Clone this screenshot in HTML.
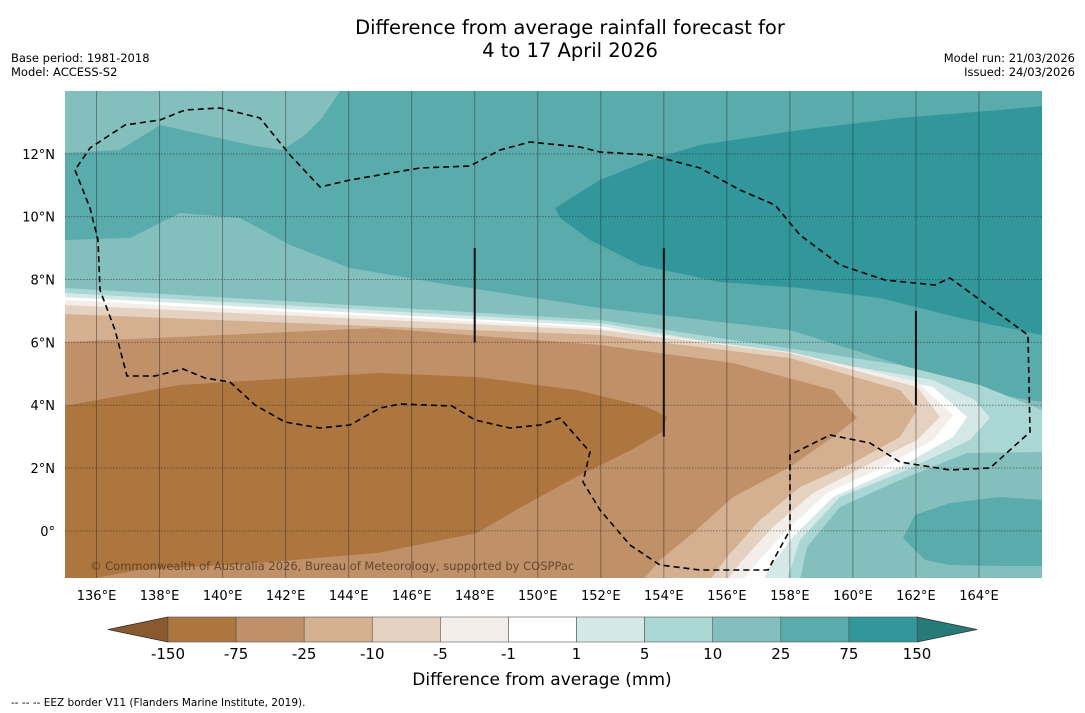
<!DOCTYPE html>
<html><head><meta charset="utf-8"><style>
body{margin:0;background:#fff;width:1085px;height:713px;overflow:hidden;font-family:"DejaVu Sans","Liberation Sans",sans-serif}
svg{position:absolute;left:0;top:0;font-family:"DejaVu Sans","Liberation Sans",sans-serif}
</style></head><body>
<svg id="chart" width="1085" height="713" viewBox="0 0 1085 713">
<text x="570" y="34" font-size="19.5" text-anchor="middle">Difference from average rainfall forecast for</text>
<text x="570" y="57" font-size="19.5" text-anchor="middle">4 to 17 April 2026</text>
<text x="11" y="62" font-size="11.5">Base period: 1981-2018</text>
<text x="11" y="76" font-size="11.5">Model: ACCESS-S2</text>
<text x="1075" y="62" font-size="11.5" text-anchor="end">Model run: 21/03/2026</text>
<text x="1075" y="76" font-size="11.5" text-anchor="end">Issued: 24/03/2026</text>
<defs><clipPath id="mapclip"><rect x="65" y="91" width="977" height="487"/></clipPath></defs>
<g id="map" clip-path="url(#mapclip)"></g>
<g id="axes"></g>
<g id="cbar"></g>
<text x="542" y="685" font-size="17" text-anchor="middle">Difference from average (mm)</text>
<text x="11" y="706" font-size="10.5">--  --  -- EEZ border V11 (Flanders Marine Institute, 2019).</text>
</svg>
<script>
const lonMin=135, lonMax=166, latMin=-1.5, latMax=14;
const X0=65, X1=1042, Y0=91, Y1=578;
function px(lon){return X0+(lon-lonMin)/(lonMax-lonMin)*(X1-X0);}
function py(lat){return Y0+(latMax-lat)/(latMax-latMin)*(Y1-Y0);}
function toLL(p){return [lonMin+(p[0]-X0)/(X1-X0)*(lonMax-lonMin), latMax-(p[1]-Y0)/(Y1-Y0)*(latMax-latMin)];}

const levels=[-150,-75,-25,-10,-5,-1,1,5,10,25,75,150];
const colors=["#ad763f","#c09068","#d4b091","#e5d1bf","#f3eee9","#ffffff","#d4e8e7","#aad6d4","#83bfbd","#5aabab","#31979a"];
const lonTicks=[136,138,140,142,144,146,148,150,152,154,156,158,160,162,164];
const latTicks=[0,2,4,6,8,10,12];

const rMedium=[[65,153],[120,150],[160,125],[250,145],[282,150],[305,135],[322,118],[340,91],[1042,91],[1042,402],[967,390],[917,370],[790,330],[600,308],[450,285],[350,268],[290,245],[240,218],[180,213],[130,238],[65,240]].map(toLL);
const rDark=[[555,208],[600,180],[650,160],[700,145],[800,130],[900,118],[1000,110],[1042,106],[1042,335],[960,318],[880,298],[800,288],[720,282],[640,265],[590,240],[560,218]].map(toLL);
const rBlob=[[903,538],[915,515],[950,503],[1000,497],[1042,500],[1042,566],[1000,566],[950,565],[925,560]].map(toLL);
const r5=[[65,288],[600,320],[900,365],[980,385],[1042,410],[1042,452],[967,453],[900,480],[840,507],[807,547],[800,580],[65,580]].map(toLL);
const r1=[[65,293],[600,323],[933,380],[975,400],[990,418],[970,440],[900,473],[840,497],[800,540],[787,580],[65,580]].map(toLL);
const rm1=[[65,297],[600,326],[933,387],[967,417],[953,437],[900,467],[833,497],[793,537],[770,567],[763,580],[65,580]].map(toLL);
const rm5=[[65,300],[600,328],[790,352],[917,382],[953,415],[933,440],[883,467],[827,493],[787,530],[753,567],[743,580],[65,580]].map(toLL);
const rm10=[[65,305],[600,330],[790,353],[917,387],[940,417],[917,440],[867,465],[813,493],[773,527],[740,563],[727,580],[65,580]].map(toLL);
const rm25=[[65,314],[600,335],[790,358],[900,390],[917,410],[900,437],[853,463],[800,487],[760,520],[727,557],[710,580],[65,580]].map(toLL);
const rm75=[[65,342],[377,328],[600,345],[733,363],[833,390],[857,418],[833,437],[790,467],[733,497],[693,533],[660,560],[643,580],[65,580]].map(toLL);
const rm150=[[65,406],[179,385],[377,373],[477,377],[576,390],[647,407],[667,417],[662,432],[631,450],[576,477],[516,510],[477,533],[377,553],[258,563],[139,570],[84,580],[65,580]].map(toLL);
const regions=[[rMedium,9],[rDark,10],[rBlob,9],[r5,7],[r1,6],[rm1,5],[rm5,4],[rm10,3],[rm25,2],[rm75,1],[rm150,0]];

const eez=[[75,170],[90,208],[98,240],[100,290],[115,330],[127,376],[155,376],[183,369],[205,378],[230,382],[255,405],[285,422],[320,428],[350,425],[380,408],[400,404],[452,406],[475,420],[510,428],[540,425],[560,418],[590,452],[583,482],[600,510],[630,545],[660,565],[700,570],[768,570],[790,530],[790,455],[830,435],[870,443],[900,462],[950,470],[990,468],[1030,432],[1028,335],[950,278],[935,285],[885,280],[840,265],[800,235],[775,205],[740,190],[700,168],[650,155],[600,152],[580,147],[530,142],[500,150],[470,166],[420,168],[350,180],[320,187],[290,155],[260,118],[220,108],[185,110],[160,120],[125,125],[90,148],[75,170]].map(toLL);
const lines=[[148,9,6],[154,9,3],[162,7,4]];

const NS="http://www.w3.org/2000/svg";
function mk(tag,attrs,parent){const e=document.createElementNS(NS,tag);for(const k in attrs)e.setAttribute(k,attrs[k]);parent.appendChild(e);return e;}
const map=document.getElementById('map'), axes=document.getElementById('axes'), cbar=document.getElementById('cbar');
function pts(a){return a.map(p=>px(p[0]).toFixed(1)+","+py(p[1]).toFixed(1)).join(" ");}

const bg=mk('rect',{x:X0,y:Y0,width:X1-X0,height:Y1-Y0,fill:colors[8]},map);


regions.forEach((r,i)=>{
  const p=mk('polygon',{points:pts(r[0]),fill:colors[r[1]]},map);
  
  
});
lonTicks.forEach(l=>{
  const ln=mk('line',{x1:px(l),x2:px(l),y1:Y0,y2:Y1,stroke:"rgba(40,40,40,0.45)","stroke-width":1},map);
  
  
  const t=mk('text',{x:px(l),y:600,"font-size":13,"text-anchor":"middle"},axes);
  t.textContent=l+"°E";
  
  
});
latTicks.forEach(l=>{
  const ln=mk('line',{x1:X0,x2:X1,y1:py(l),y2:py(l),stroke:"rgba(40,40,40,0.5)","stroke-width":1,"stroke-dasharray":"1.5,1.5"},map);
  
  
  const t=mk('text',{x:55,y:py(l)+5,"font-size":13,"text-anchor":"end"},axes);
  t.textContent=l===0?"0°":l+"°N";
  
  
});
lines.forEach(s=>{
  const ln=mk('line',{x1:px(s[0]),x2:px(s[0]),y1:py(s[1]),y2:py(s[2]),stroke:"#111","stroke-width":2},map);
  
  
});
const ez=mk('polyline',{points:pts(eez),fill:"none",stroke:"#000","stroke-width":1.6,"stroke-dasharray":"6,4"},map);


const cp=mk('text',{x:90,y:570,"font-size":11.5,fill:"rgba(70,50,30,0.75)"},map);
cp.textContent="© Commonwealth of Australia 2026, Bureau of Meteorology, supported by COSPPac";



const cbX0=168, cbX1=917, cbY=617, cbH=25, bw=(cbX1-cbX0)/colors.length;
const lt=mk('polygon',{points:`${cbX0},${cbY} ${cbX0},${cbY+cbH} 108,${cbY+cbH/2}`,fill:"#8a5a2f",stroke:"#333","stroke-width":0.8},cbar);


const rt=mk('polygon',{points:`${cbX1},${cbY} ${cbX1},${cbY+cbH} 977,${cbY+cbH/2}`,fill:"#267a77",stroke:"#333","stroke-width":0.8},cbar);


colors.forEach((c,i)=>{
  const r=mk('rect',{x:cbX0+i*bw,y:cbY,width:bw,height:cbH,fill:c,stroke:"#555","stroke-width":0.6},cbar);
  
  
});
levels.forEach((v,i)=>{
  const t=mk('text',{x:cbX0+i*bw,y:659,"font-size":15,"text-anchor":"middle"},cbar);
  t.textContent=v;
  
  
});
</script>
</body></html>
